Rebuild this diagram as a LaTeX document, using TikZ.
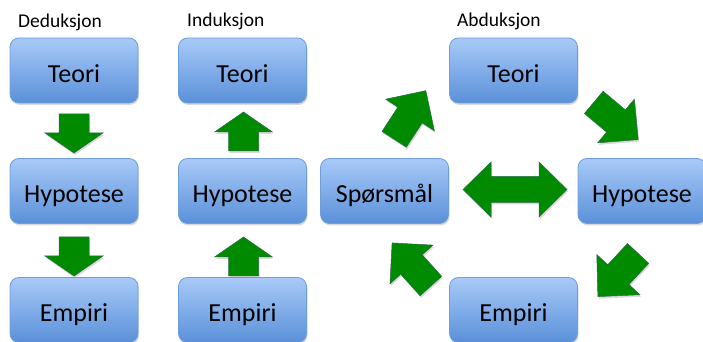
\documentclass[tikz,border=0pt]{standalone}
\usepackage{fontspec}
\setmainfont{Carlito}
\usetikzlibrary{shadows}

\definecolor{boxtop}{HTML}{A8CAF8}
\definecolor{boxbot}{HTML}{5A90D9}
\definecolor{boxedge}{HTML}{6E9FDA}
\definecolor{arrowgreen}{HTML}{008A00}
\definecolor{arrowedge}{HTML}{2A6B4A}

\tikzset{
    box/.style={draw=boxedge, line width=0.8pt, rounded corners=9pt,
        top color=boxtop, bottom color=boxbot,
        minimum width=128pt, minimum height=65pt,
        text height=24pt, text depth=0pt,
        font=\fontsize{26}{30}\selectfont,
        drop shadow={opacity=0.3, shadow xshift=1pt, shadow yshift=-2pt}},
    title/.style={anchor=base west, inner sep=0pt,
        font=\fontsize{19.5}{22}\selectfont},
    block arrow/.style={fill=arrowgreen, draw=arrowedge, line width=0.5pt,
        drop shadow={opacity=0.3, shadow xshift=1pt, shadow yshift=-2pt}}
}

% centre, angle, length, head length, shaft width, head width
\newcommand\greenarrow[6]{%
    \filldraw[block arrow, shift={#1}, rotate=#2]
        (-#3/2,-#5/2) -- (#3/2-#4,-#5/2) -- (#3/2-#4,-#6/2) -- (#3/2,0)
        -- (#3/2-#4,#6/2) -- (#3/2-#4,#5/2) -- (-#3/2,#5/2) -- cycle;}

\begin{document}
\begin{tikzpicture}[x=1pt, y=1pt]

\useasboundingbox (0,0) rectangle (703,342);

\foreach \m/\y [count=\i] in {Teori/271.5, Hypotese/151, Empiri/32}
    \node [box] (ded-\i) at (74,\y) {\m};

\foreach \m/\y [count=\i] in {Teori/271.5, Hypotese/151, Empiri/32}
    \node [box] (ind-\i) at (242.5,\y) {\m};

\node [box] (abd-teori) at (513.5,271.5) {Teori};
\node [box] (abd-sp) at (384.5,151) {Spørsmål};
\node [box] (abd-hyp) at (642,151) {Hypotese};
\node [box] (abd-emp) at (513.5,32) {Empiri};

\node [title] (t-ded) at (18,314.5) {Deduksjon};
\node [title] (t-ind) at (187,315) {Induksjon};
\node [title] (t-abd) at (457,315) {Abduksjon};

% deduksjon: ned
\foreach \y in {208.5, 85.5} {
    \greenarrow{(74,\y)}{-90}{39}{20}{30}{58}
}

% induksjon: opp
\foreach \y in {210.5, 85.5} {
    \greenarrow{(243.5,\y)}{90}{39}{20}{30}{58}
}

% abduksjon: rundt
\greenarrow{(410,227)}{57}{58}{29}{29}{58}
\greenarrow{(616,221)}{-40}{58}{29}{29}{57}
\greenarrow{(618,67)}{-133}{59}{30}{29}{59}
\greenarrow{(411.5,77.5)}{132}{58}{29}{29}{58}

\filldraw [block arrow] (463,152.5) -- (491,180) -- (491,165.5) -- (539,165.5)
    -- (539,180) -- (567,152.5) -- (539,125) -- (539,139.5) -- (491,139.5)
    -- (491,125) -- cycle;

\end{tikzpicture}
\end{document}
